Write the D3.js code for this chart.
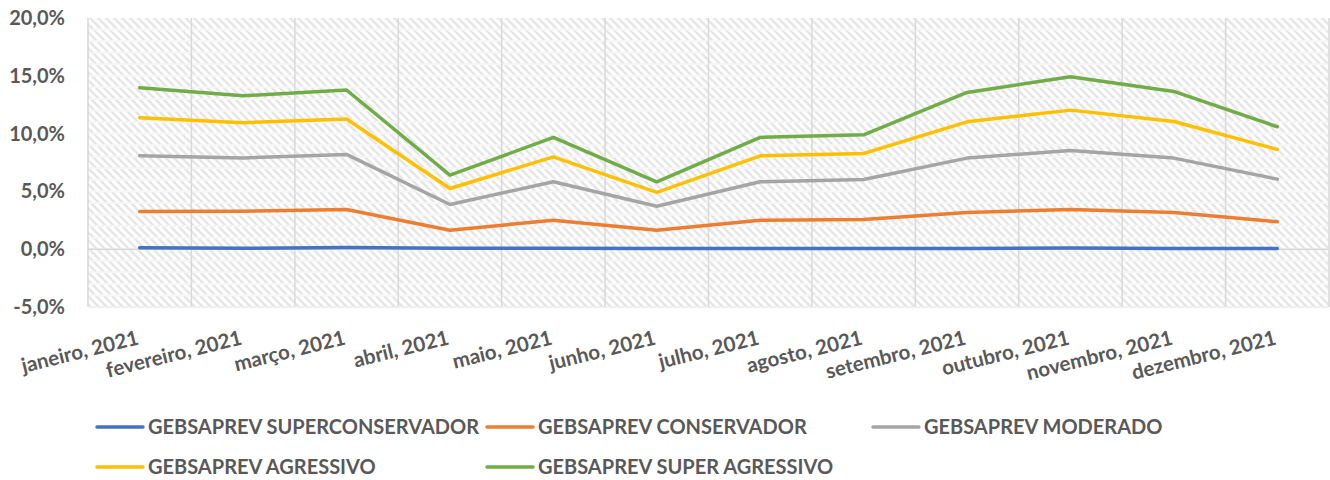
<!DOCTYPE html>
<html>
<head>
<meta charset="utf-8">
<script src="https://cdn.jsdelivr.net/npm/d3@7"></script>
<style>
  body { margin: 0; background: #fff; }
  svg { display: block; font-family: Lato, "Open Sans", sans-serif; }
</style>
</head>
<body>
<svg id="chart" width="1330" height="480"></svg>
<script>
const months = ['janeiro, 2021', 'fevereiro, 2021', 'março, 2021', 'abril, 2021', 'maio, 2021', 'junho, 2021',
    'julho, 2021', 'agosto, 2021', 'setembro, 2021', 'outubro, 2021', 'novembro, 2021', 'dezembro, 2021'];

const seriesNames = ['GEBSAPREV SUPERCONSERVADOR', 'GEBSAPREV CONSERVADOR', 'GEBSAPREV MODERADO',
    'GEBSAPREV AGRESSIVO', 'GEBSAPREV SUPER AGRESSIVO'];

const superConservador = [0.12, 0.08, 0.15, 0.08, 0.08, 0.06, 0.05, 0.06, 0.07, 0.10, 0.05, 0.06];
const conservador = [3.26, 3.28, 3.44, 1.64, 2.51, 1.64, 2.51, 2.57, 3.18, 3.43, 3.18, 2.37];
const moderado = [8.08, 7.90, 8.20, 3.87, 5.83, 3.72, 5.83, 6.03, 7.88, 8.54, 7.88, 6.06];
const agressivo = [11.37, 10.94, 11.26, 5.25, 7.99, 4.91, 8.08, 8.28, 11.02, 12.03, 11.05, 8.63];
const superAgressivo = [13.97, 13.27, 13.77, 6.4, 9.67, 5.83, 9.67, 9.9, 13.56, 14.92, 13.65, 10.59];

const yTicks = [-5, 0, 5, 10, 15, 20];

const colors = ['#4472C4', '#ED7D31', '#A5A5A5', '#FFC000', '#70AD47'];

const series = [superConservador, conservador, moderado, agressivo, superAgressivo]
    .map((values, i) => ({ name: seriesNames[i], values, color: colors[i] }));

const svg = d3.select('#chart');
const plot = { left: 88, right: 1329, top: 18, bottom: 307 };

const xScale = d3.scaleBand().domain(months).range([plot.left, plot.right]);
const yScale = d3.scaleLinear().domain([-5, 20]).range([plot.bottom, plot.top]);

// hatch fill like the excel plot area
const defs = svg.append('defs');
const pat = defs.append('pattern')
    .attr('id', 'hatch')
    .attr('patternUnits', 'userSpaceOnUse')
    .attr('width', 8)
    .attr('height', 8);
pat.append('rect').attr('width', 8).attr('height', 8).attr('fill', '#ffffff');
pat.append('path')
    .attr('d', 'M-2,-2 L10,10 M-2,6 L2,10 M6,-2 L10,2')
    .attr('stroke', '#e6e6e6')
    .attr('stroke-width', 2.4);

svg.append('rect')
    .attr('x', plot.left)
    .attr('y', plot.top)
    .attr('width', plot.right - plot.left)
    .attr('height', plot.bottom - plot.top)
    .attr('fill', 'url(#hatch)');

// light minor lines every 1%
svg.append('g')
    .selectAll('line')
    .data(d3.range(-4, 20))
    .join('line')
    .attr('x1', plot.left)
    .attr('x2', plot.right)
    .attr('y1', (d) => yScale(d))
    .attr('y2', (d) => yScale(d))
    .attr('stroke', '#f6f6f6')
    .attr('stroke-width', 2);

// vertical gridlines on category boundaries
const bounds = months.map((m) => xScale(m)).concat([plot.right]);
svg.append('g')
    .selectAll('line')
    .data(bounds)
    .join('line')
    .attr('x1', (d) => d)
    .attr('x2', (d) => d)
    .attr('y1', plot.top)
    .attr('y2', plot.bottom)
    .attr('stroke', '#d9d9d9')
    .attr('stroke-width', 1.5);

// zero line and bottom edge
svg.append('line')
    .attr('x1', plot.left).attr('x2', plot.right)
    .attr('y1', yScale(0)).attr('y2', yScale(0))
    .attr('stroke', '#d9d9d9').attr('stroke-width', 1.5);
svg.append('line')
    .attr('x1', plot.left).attr('x2', plot.right)
    .attr('y1', plot.bottom).attr('y2', plot.bottom)
    .attr('stroke', '#ebebeb').attr('stroke-width', 1.5);

// y axis labels
const fmt = (d) => d3.format('.1f')(d).replace('.', ',').replace('−', '-') + '%';
const yAxis = d3.axisLeft(yScale).tickValues(yTicks).tickSize(0).tickPadding(0).tickFormat(fmt);
const yg = svg.append('g')
    .attr('transform', 'translate(65,0)')
    .call(yAxis);
yg.select('.domain').remove();
yg.selectAll('text')
    .attr('fill', '#595959')
    .attr('font-size', 20)
    .attr('font-weight', 'bold')
    .attr('font-family', 'Lato, sans-serif');

// x axis labels, rotated
const xg = svg.append('g');
xg.selectAll('text')
    .data(months)
    .join('text')
    .attr('transform', (d) => `translate(${xScale(d) + xScale.bandwidth() / 2},344) rotate(-14)`)
    .attr('text-anchor', 'end')
    .attr('fill', '#595959')
    .attr('font-size', 20.5)
    .attr('font-weight', 'bold')
    .text((d) => d);

// lines
const line = d3.line()
    .x((d, i) => xScale(months[i]) + xScale.bandwidth() / 2)
    .y((d) => yScale(d));

svg.append('g')
    .selectAll('path')
    .data(series)
    .join('path')
    .attr('d', (d) => line(d.values))
    .attr('fill', 'none')
    .attr('stroke', (d) => d.color)
    .attr('stroke-width', 3.5)
    .attr('stroke-linejoin', 'round')
    .attr('stroke-linecap', 'round');

// legend
const legendPos = [[97, 427], [487, 427], [873, 427], [97, 467], [487, 467]];
const legend = svg.append('g')
    .selectAll('g')
    .data(series)
    .join('g')
    .attr('transform', (d, i) => `translate(${legendPos[i][0]},${legendPos[i][1]})`);

legend.append('line')
    .attr('x1', 0).attr('x2', 46)
    .attr('stroke', (d) => d.color)
    .attr('stroke-width', 3.5)
    .attr('stroke-linecap', 'round');

legend.append('text')
    .attr('x', 51)
    .attr('dy', '0.35em')
    .attr('fill', '#595959')
    .attr('font-size', 20)
    .attr('font-weight', 'bold')
    .text((d) => d.name);
</script>
</body>
</html>
